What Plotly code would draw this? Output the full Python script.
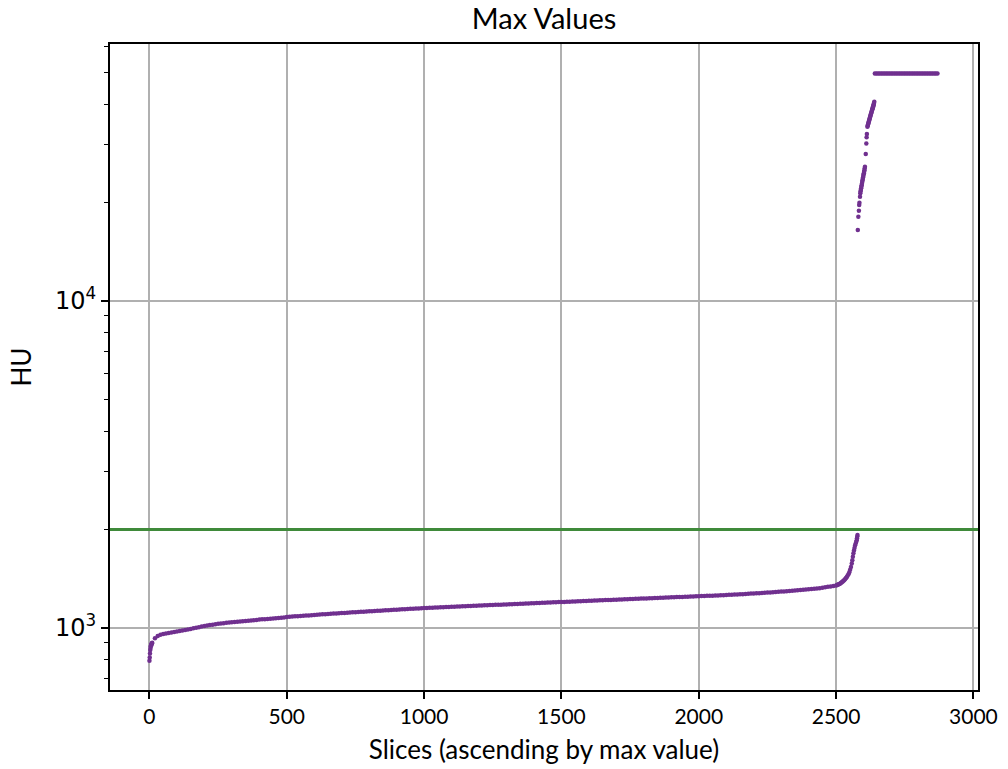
import plotly.graph_objects as go

# Per-slice maximum HU values, sorted ascending, split by region of the curve.
onset_idx = list(range(0, 10))
onset_hu = [793, 812, 835, 856, 868, 878, 885, 890, 894, 897]

body_idx = list(range(10, 2501, 10))
body_hu = [
    900, 930, 945, 952, 957, 961, 965, 968, 972, 975,
    978, 981, 985, 989, 993, 997, 1001, 1005, 1009, 1013,
    1017, 1020, 1023, 1026, 1029, 1032, 1034, 1037, 1039, 1041,
    1043, 1044, 1046, 1048, 1050, 1052, 1054, 1056, 1058, 1060,
    1062, 1063, 1065, 1067, 1068, 1070, 1072, 1074, 1076, 1079,
    1081, 1083, 1085, 1086, 1088, 1089, 1091, 1092, 1094, 1095,
    1097, 1098, 1100, 1101, 1103, 1104, 1106, 1107, 1109, 1110,
    1111, 1113, 1114, 1116, 1117, 1118, 1120, 1121, 1123, 1124,
    1125, 1127, 1128, 1129, 1131, 1132, 1133, 1135, 1136, 1137,
    1138, 1140, 1141, 1142, 1144, 1145, 1146, 1147, 1148, 1150,
    1151, 1152, 1153, 1154, 1155, 1156, 1157, 1158, 1159, 1160,
    1161, 1162, 1163, 1164, 1165, 1166, 1167, 1168, 1169, 1170,
    1171, 1172, 1173, 1174, 1175, 1176, 1177, 1178, 1179, 1180,
    1181, 1182, 1183, 1184, 1185, 1186, 1187, 1188, 1189, 1190,
    1191, 1192, 1193, 1194, 1195, 1196, 1197, 1198, 1199, 1200,
    1201, 1202, 1203, 1204, 1205, 1206, 1207, 1208, 1209, 1210,
    1211, 1212, 1213, 1214, 1215, 1216, 1217, 1218, 1219, 1220,
    1221, 1222, 1223, 1224, 1225, 1226, 1227, 1228, 1229, 1230,
    1231, 1232, 1233, 1234, 1235, 1236, 1237, 1238, 1239, 1240,
    1241, 1242, 1243, 1244, 1245, 1246, 1247, 1248, 1249, 1250,
    1251, 1252, 1253, 1254, 1255, 1256, 1257, 1258, 1259, 1261,
    1262, 1263, 1264, 1266, 1267, 1268, 1270, 1271, 1273, 1274,
    1276, 1277, 1279, 1280, 1282, 1284, 1285, 1287, 1289, 1291,
    1293, 1295, 1297, 1299, 1301, 1303, 1305, 1307, 1310, 1312,
    1315, 1317, 1320, 1323, 1327, 1331, 1335, 1339, 1344, 1349,
]

knee_idx = [2503, 2506, 2509, 2512, 2515, 2518, 2521, 2524, 2527, 2530,
            2533, 2536, 2539, 2542, 2545, 2548, 2551, 2554, 2557, 2559,
            2561, 2563, 2565, 2567, 2569, 2571, 2573, 2575, 2576, 2577, 2578]
knee_hu = [1352, 1356, 1359, 1363, 1368, 1374, 1380, 1386, 1393, 1401,
           1410, 1420, 1432, 1445, 1460, 1480, 1505, 1535, 1575, 1610,
           1650, 1692, 1725, 1755, 1785, 1810, 1830, 1855, 1880, 1905, 1925]

upper_idx = [2579, 2581, 2583, 2584, 2585, 2587,
             2588, 2589, 2590, 2591, 2592, 2593, 2594, 2595, 2596,
             2597, 2598, 2599, 2600, 2601, 2602, 2603, 2604, 2605,
             2608, 2610, 2611, 2612,
             2614, 2615, 2616, 2617, 2618, 2619, 2620, 2621, 2622,
             2623, 2624, 2625, 2626, 2627, 2628, 2629, 2630, 2631,
             2632, 2633, 2634, 2635, 2636, 2637, 2638, 2639]
upper_hu = [16490, 18110, 18890, 19660, 19980, 20840,
            21350, 21600, 21850, 22100, 22350, 22600, 22850, 23100, 23350,
            23600, 23850, 24100, 24350, 24600, 24850, 25100, 25400, 25750,
            28150, 30340, 31670, 32420,
            34120, 34370, 34610, 34860, 35100, 35350, 35600, 35850, 36100,
            36350, 36600, 36850, 37100, 37350, 37600, 37850, 38100, 38350,
            38600, 38850, 39100, 39400, 39700, 40000, 40350, 40690]

# Slices that hit the scanner's saturation value
SATURATED_HU = 49600
sat_idx = list(range(2641, 2873, 6))
sat_hu = [SATURATED_HU] * len(sat_idx)

THRESHOLD_HU = 2000

slice_idx = onset_idx + body_idx + knee_idx + upper_idx + sat_idx
max_hu = onset_hu + body_hu + knee_hu + upper_hu + sat_hu

PURPLE = "#70308f"
GREEN = "#3f8a3a"
GRID = "#b0b0b0"
FONT = "Lato"

fig = go.Figure()
fig.add_trace(go.Scatter(
    x=slice_idx, y=max_hu, mode="markers",
    marker=dict(size=4.5, color=PURPLE, line=dict(width=0)),
    showlegend=False, hoverinfo="x+y",
))

fig.add_shape(type="line", xref="paper", x0=0, x1=1, yref="y",
              y0=THRESHOLD_HU, y1=THRESHOLD_HU,
              line=dict(color=GREEN, width=3), layer="above")

minor_vals = [700, 800, 900] + [k * 1000 for k in range(2, 10)] + [k * 10000 for k in range(2, 7)]

fig.update_layout(
    width=1008, height=769,
    margin=dict(l=110, r=30, t=44, b=79),
    paper_bgcolor="white", plot_bgcolor="white",
    font=dict(family=FONT, color="black", size=20),
    title=dict(text="Max Values", x=0.5, xref="paper", xanchor="center",
               y=1 - 19 / 769, yref="container", yanchor="middle",
               font=dict(family=FONT, size=29, color="black")),
    xaxis=dict(
        range=[-143.6, 3016.6], automargin=False,
        tickmode="array", tickvals=[0, 500, 1000, 1500, 2000, 2500, 3000],
        ticks="outside", ticklen=7, tickwidth=1.5, tickcolor="black",
        showgrid=True, gridcolor=GRID, gridwidth=1.5,
        showline=True, linecolor="black", linewidth=2, mirror=True,
        zeroline=False,
        tickfont=dict(family=FONT, size=21),
        title=dict(text="Slices (ascending by max value)", standoff=14,
                   font=dict(family=FONT, size=26)),
    ),
    yaxis=dict(
        type="log", range=[2.810, 4.786], automargin=False,
        tickmode="array", tickvals=[1000, 10000],
        ticktext=["10<sup>3</sup>", "10<sup>4</sup>"],
        ticks="outside", ticklen=7, tickwidth=1.5, tickcolor="black",
        showgrid=True, gridcolor=GRID, gridwidth=1.5,
        showline=True, linecolor="black", linewidth=2, mirror=True,
        zeroline=False,
        minor=dict(tickmode="array", tickvals=minor_vals, ticks="outside",
                   ticklen=4, tickwidth=1, tickcolor="black", showgrid=False),
        tickfont=dict(family="DejaVu Sans", size=24),
        title=dict(text="HU", standoff=16, font=dict(family=FONT, size=26)),
    ),
)

fig.write_html("out.html")
